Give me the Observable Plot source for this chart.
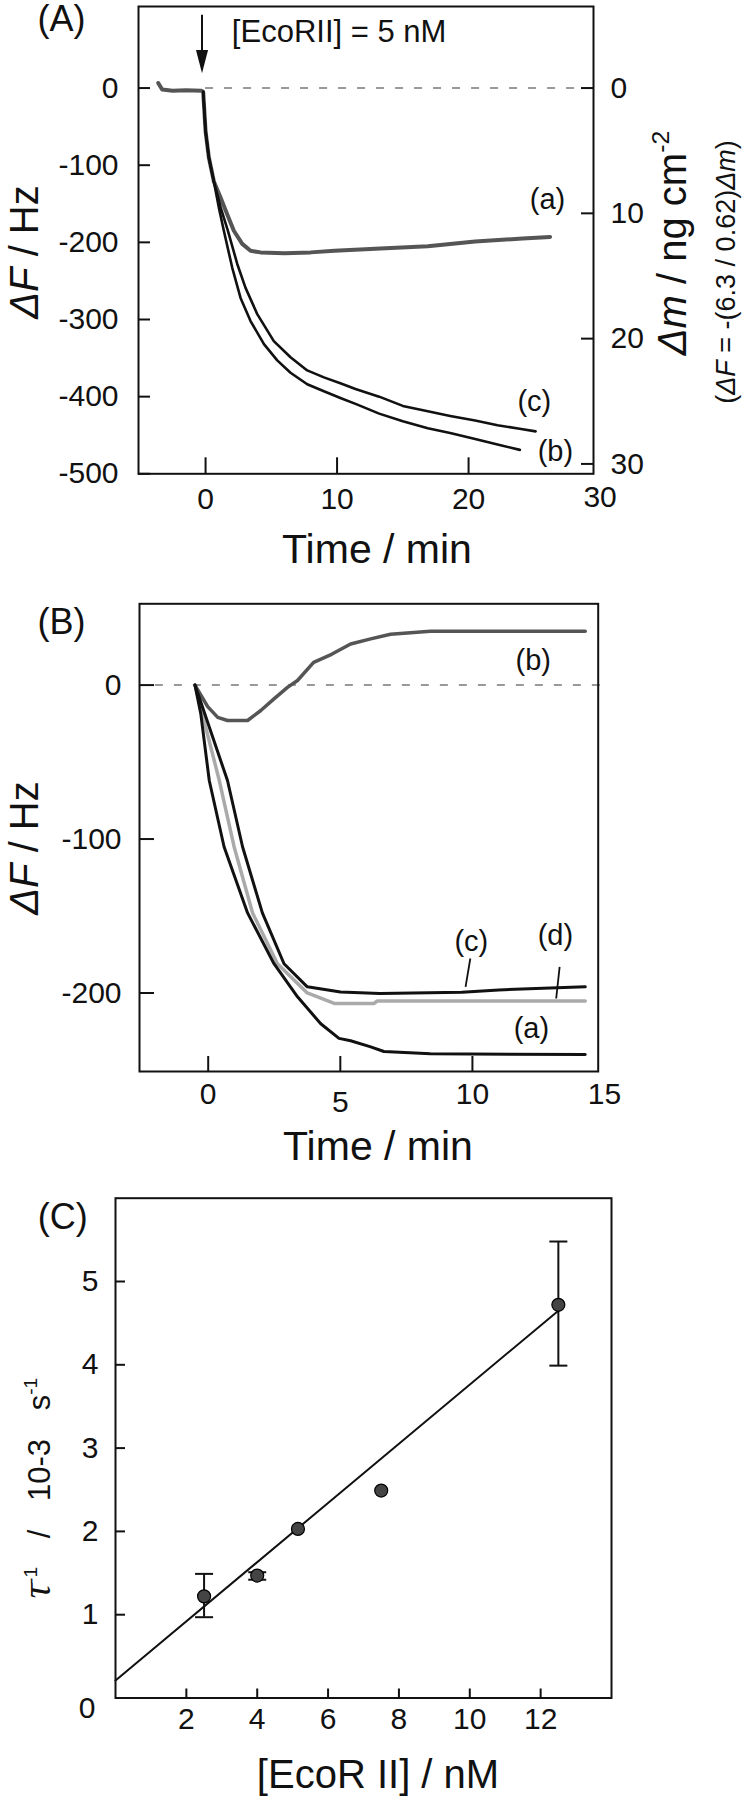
<!DOCTYPE html>
<html><head><meta charset="utf-8">
<script src="https://cdn.jsdelivr.net/npm/d3@7"></script>
<script src="https://cdn.jsdelivr.net/npm/@observablehq/plot@0.6"></script>
<style>
html,body{margin:0;padding:0;background:#fff;overflow:hidden;}
#wrap{position:relative;width:744px;height:1800px;}
#wrap svg{position:absolute;left:0;}
</style></head><body><div id="wrap"></div>
<script>
// ---------------- Panel A data ----------------
const timeA_a = [-3.6,-3.3,-2.5,-1.5,-0.3,-0.18,0,0.25,0.63,1.14,1.65,2.15,2.79,3.42,4.18,6,8,9.8,13.3,16.9,20.5,24.1,26.2];
const dfA_a   = [6.5,-2,-3.5,-3,-3.5,-5,-56,-90,-121,-142,-164,-185,-202,-211,-213,-214,-213,-211,-208,-205,-199,-195,-193];
const timeA_b = [-0.18,0,0.25,0.63,1.01,1.39,2.03,2.66,3.42,4.44,5.45,6.46,7.73,9.0,10.3,11.5,13.2,15.0,16.9,18.6,20.5,22.2,23.9];
const dfA_b   = [-5,-56,-90,-121,-155,-185,-233,-272,-302,-332,-353,-369,-384,-393,-402,-410,-422,-432,-441,-447,-455,-462,-469];
const timeA_c = [-0.18,0,0.25,0.63,1.15,1.7,2.41,3.04,3.93,5.19,6.46,7.73,9.0,10.3,11.4,13.2,15.0,16.9,18.6,20.5,22.2,24.0,25.1];
const dfA_c   = [-5,-56,-90,-121,-155,-185,-228,-259,-293,-328,-349,-366,-375,-383,-390,-400,-412,-419,-425,-431,-437,-442,-445];
const ticksA_x = [0,10,20];
const ticksA_xExtra = [30];
const ticksA_y = [0,-100,-200,-300,-400,-500];
const ticksA_dm = [0,10,20,30];
const dmPerHz = 16.24;           // right-axis conversion as drawn in the figure
const labelsA_text = ["(a)","(c)","(b)"];
const labelsA_t    = [26.0,25.0,26.6];
const labelsA_df   = [-145,-407,-472];
const arrowA = [{t:-0.27, top:95, bottom:40, head:35}];
const noteA = [{t:2.0, df:73, text:"[EcoRII] = 5 nM"}];

// ---------------- Panel B data ----------------
const timeB_a = [-0.5,-0.28,0.04,0.6,1.49,2.49,3.38,4.26,4.95,5.39,6.15,6.65,8.41,14.27];
const dfB_a   = [0,-18.7,-62,-105,-148,-181,-202.5,-220,-229.5,-231,-235,-238,-239.5,-240];
const timeB_b = [-0.5,-0.02,0.36,0.73,1.49,1.99,2.49,3.0,3.38,3.99,4.67,5.39,6.15,6.9,8.41,14.27];
const dfB_b   = [0,-14,-21,-23,-23,-16.5,-9,-1.5,3,14.8,20,26.7,30,33,34.9,34.9];
const timeB_c = [-0.5,0.73,1.3,2.05,2.87,3.75,5.01,6.5,9.6,11,14.27];
const dfB_c   = [0,-62,-105,-148,-181,-196,-199.3,-200.3,-199.5,-198,-196];
const timeB_d = [-0.5,0.42,0.98,1.68,2.62,3.75,4.77,6.27,6.4,14.27];
const dfB_d   = [0,-62,-105,-148,-181,-200,-206.8,-206.8,-205.2,-205.2];
const ticksB_x = [0,5,10];
const labelsB_x = [0,10];
const labelsB_xLow = [5];
const labelsB_xEdge = [15];
const ticksB_y = [0,-100,-200];
const labelsB_text = ["(b)","(c)","(d)","(a)"];
const labelsB_t    = [12.3,9.96,13.14,12.23];
const labelsB_df   = [15.8,-166.4,-162.5,-223.5];
const leadB_t1  = [9.92,13.3];
const leadB_df1 = [-177.6,-183];
const leadB_t2  = [9.74,13.17];
const leadB_df2 = [-196,-203.6];

// ---------------- Panel C data ----------------
const conc = [2.5,4.0,5.15,7.5,12.5];
const rate = [1.22,1.47,2.03,2.49,4.72];
const errLow  = [0.97,1.42,null,null,3.99];
const errHigh = [1.49,1.51,null,null,5.48];
const fitConc = [0,12.5];
const fitRate = [0.21,4.65];
const ticksC_x = [2,4,6,8,10,12];
const ticksC_y = [1,2,3,4,5];
const ticksC_y0 = [0];

// ---------------- helpers ----------------
const FONT = "'Liberation Sans', Arial, Helvetica, sans-serif";
const zip = (xs, ys) => xs.map((x, i) => ({x, y: ys[i]}));
const fmt = d => String(d);
const style = {fontFamily: FONT, fontSize: "30px", color: "#111", background: "transparent", overflow: "visible"};
const capSymbol = {draw(ctx, size) { const w = Math.sqrt(size / Math.PI); ctx.moveTo(-w, 0); ctx.lineTo(w, 0); }};
const headSymbol = {draw(ctx, size) { const r = Math.sqrt(size / Math.PI); ctx.moveTo(-r*0.55, -r); ctx.lineTo(r*0.55, -r); ctx.lineTo(0, r*1.1); ctx.closePath(); }};

function richText(svg, x, y, angle, size, parts, opts = {}) {
  const t = d3.select(svg).append("text")
    .attr("transform", `translate(${x},${y}) rotate(${angle})`)
    .attr("text-anchor", opts.anchor || "middle")
    .attr("font-size", size)
    .attr("font-family", FONT)
    .attr("fill", "#111")
    .style("white-space", "pre");
  if (opts.wordSpacing) t.attr("word-spacing", opts.wordSpacing);
  let shift = 0;
  for (const p of parts) {
    const s = t.append("tspan").text(p.t);
    if (p.italic) s.attr("font-style", "italic");
    if (p.family) s.attr("font-family", p.family);
    const target = p.sup ? -0.42 * size : 0;
    if (target !== shift) { s.attr("dy", target - shift); shift = target; }
    if (p.sup) s.attr("font-size", size * 0.62);
    else if (p.size) s.attr("font-size", p.size);
  }
  return t;
}

const wrap = document.getElementById("wrap");

// ---------------- Panel A ----------------
const plotA = Plot.plot({
  width: 744, height: 590,
  marginLeft: 138, marginRight: 151, marginTop: 6, marginBottom: 116.7,
  x: {domain: [-5.1, 29.5], axis: null},
  y: {domain: [-500, 105.7], axis: null},
  style,
  marks: [
    Plot.ruleY([0], {x1: 0, x2: 30, stroke: "#999", strokeWidth: 2, strokeDasharray: "8,11"}),
    Plot.line(zip(timeA_a, dfA_a), {x: "x", y: "y", stroke: "#555", strokeWidth: 4}),
    Plot.line(zip(timeA_c, dfA_c), {x: "x", y: "y", stroke: "#111", strokeWidth: 2.6}),
    Plot.line(zip(timeA_b, dfA_b), {x: "x", y: "y", stroke: "#111", strokeWidth: 2.6}),
    Plot.frame({stroke: "#111", strokeWidth: 2}),
    Plot.axisY({ticks: ticksA_y, tickSize: -12, tickPadding: 32, strokeWidth: 2, tickFormat: fmt, label: null}),
    Plot.axisY({anchor: "right", ticks: ticksA_dm.map(m => -m * dmPerHz), tickSize: -13, tickPadding: 30, strokeWidth: 2,
      tickFormat: d => String(Math.round(-d / dmPerHz)), label: null}),
    Plot.axisX({ticks: ticksA_x, tickSize: -16, tickPadding: 30, strokeWidth: 2, tickFormat: fmt, label: null}),
    Plot.axisX({ticks: ticksA_xExtra, tickSize: 0, tickPadding: 12, tickFormat: fmt, label: null}),
    Plot.text(labelsA_text.map((s, i) => ({s, t: labelsA_t[i], df: labelsA_df[i]})), {x: "t", y: "df", text: "s", fontSize: 29}),
    Plot.link(arrowA, {x1: "t", x2: "t", y1: "top", y2: "bottom", stroke: "#111", strokeWidth: 2}),
    Plot.dot(arrowA, {x: "t", y: "head", symbol: headSymbol, r: 11, fill: "#111", stroke: "none"}),
    Plot.text(noteA, {x: "t", y: "df", text: "text", textAnchor: "start", fontSize: 31})
  ]
});
plotA.style.top = "0px";
wrap.appendChild(plotA);
richText(plotA, 61.6, 31, 0, 36, [{t: "(A)"}]);
richText(plotA, 377, 563, 0, 41, [{t: "Time / min"}]);
richText(plotA, 38, 252, -90, 40, [{t: "ΔF", italic: true}, {t: " / Hz"}]);
richText(plotA, 686, 243, -90, 40, [{t: "Δm", italic: true}, {t: " / ng cm"}, {t: "-2", sup: true}]);
richText(plotA, 735, 272, -90, 27, [{t: "("}, {t: "ΔF", italic: true}, {t: " = -(6.3 / 0.62)"}, {t: "Δm", italic: true}, {t: ")"}]);

// ---------------- Panel B ----------------
const plotB = Plot.plot({
  width: 744, height: 580,
  marginLeft: 139, marginRight: 146.3, marginTop: 13.3, marginBottom: 99,
  x: {domain: [-2.6, 14.76], axis: null},
  y: {domain: [-251, 52.8], axis: null},
  style,
  marks: [
    Plot.ruleY([0], {x1: -2, x2: 15, stroke: "#999", strokeWidth: 2, strokeDasharray: "8,11"}),
    Plot.line(zip(timeB_b, dfB_b), {x: "x", y: "y", stroke: "#555", strokeWidth: 3.5}),
    Plot.line(zip(timeB_d, dfB_d), {x: "x", y: "y", stroke: "#aaa", strokeWidth: 3.5}),
    Plot.line(zip(timeB_a, dfB_a), {x: "x", y: "y", stroke: "#111", strokeWidth: 3}),
    Plot.line(zip(timeB_c, dfB_c), {x: "x", y: "y", stroke: "#111", strokeWidth: 3}),
    Plot.frame({stroke: "#111", strokeWidth: 2}),
    Plot.axisY({ticks: ticksB_y, tickSize: -15, tickPadding: 33, strokeWidth: 2, tickFormat: fmt, label: null}),
    Plot.axisX({ticks: ticksB_x, tickSize: -15, strokeWidth: 2, fill: "none", label: null}),
    Plot.axisX({ticks: labelsB_x, tickSize: 0, tickPadding: 11, tickFormat: fmt, label: null}),
    Plot.axisX({ticks: labelsB_xLow, tickSize: 0, tickPadding: 19, tickFormat: fmt, label: null}),
    Plot.axisX({ticks: labelsB_xEdge, tickSize: 0, tickPadding: 11, tickFormat: fmt, label: null}),
    Plot.link(leadB_t1.map((t, i) => ({t1: t, d1: leadB_df1[i], t2: leadB_t2[i], d2: leadB_df2[i]})),
      {x1: "t1", y1: "d1", x2: "t2", y2: "d2", stroke: "#111", strokeWidth: 1.8}),
    Plot.text(labelsB_text.map((s, i) => ({s, t: labelsB_t[i], df: labelsB_df[i]})), {x: "t", y: "df", text: "s", fontSize: 29})
  ]
});
plotB.style.top = "590px";
wrap.appendChild(plotB);
richText(plotB, 61.6, 44.4, 0, 36, [{t: "(B)"}]);
richText(plotB, 378, 570, 0, 41, [{t: "Time / min"}]);
richText(plotB, 38, 258, -90, 40, [{t: "ΔF", italic: true}, {t: " / Hz"}]);

// ---------------- Panel C ----------------
const pointsC = conc.map((c, i) => ({c, r: rate[i], lo: errLow[i], hi: errHigh[i]}));
const errC = pointsC.filter(d => d.lo != null);
const plotC = Plot.plot({
  width: 744, height: 630,
  marginLeft: 115, marginRight: 133, marginTop: 27.7, marginBottom: 102.5,
  x: {domain: [0, 14], axis: null},
  y: {domain: [0, 6], axis: null},
  style,
  marks: [
    Plot.line(zip(fitConc, fitRate), {x: "x", y: "y", stroke: "#111", strokeWidth: 2}),
    Plot.ruleX(errC, {x: "c", y1: "lo", y2: "hi", stroke: "#111", strokeWidth: 2}),
    Plot.dot(errC, {x: "c", y: "lo", symbol: capSymbol, r: 9, stroke: "#111", strokeWidth: 2, fill: "none"}),
    Plot.dot(errC, {x: "c", y: "hi", symbol: capSymbol, r: 9, stroke: "#111", strokeWidth: 2, fill: "none"}),
    Plot.dot(pointsC, {x: "c", y: "r", r: 6.5, fill: "#444", stroke: "#000", strokeWidth: 1.2}),
    Plot.frame({stroke: "#111", strokeWidth: 2}),
    Plot.axisY({ticks: ticksC_y, tickSize: -10, tickPadding: 27, strokeWidth: 2, tickFormat: fmt, label: null}),
    Plot.axisY({ticks: ticksC_y0, tickSize: 0, tickPadding: 20, dy: 10, tickFormat: fmt, label: null}),
    Plot.axisX({ticks: ticksC_x, tickSize: -9, tickPadding: 19, strokeWidth: 2, tickFormat: fmt, label: null})
  ]
});
plotC.style.top = "1170px";
wrap.appendChild(plotC);
richText(plotC, 62.8, 59.4, 0, 36, [{t: "(C)"}]);
richText(plotC, 378, 618, 0, 40, [{t: "[EcoR II] / nM"}]);
richText(plotC, 50, 318, -90, 31, [
  {t: "τ", italic: true, family: "'Liberation Serif', 'DejaVu Serif', serif", size: 40},
  {t: "-1", sup: true},
  {t: " / 10-3 s"},
  {t: "-1", sup: true}
], {wordSpacing: 20});
</script>
</body></html>
